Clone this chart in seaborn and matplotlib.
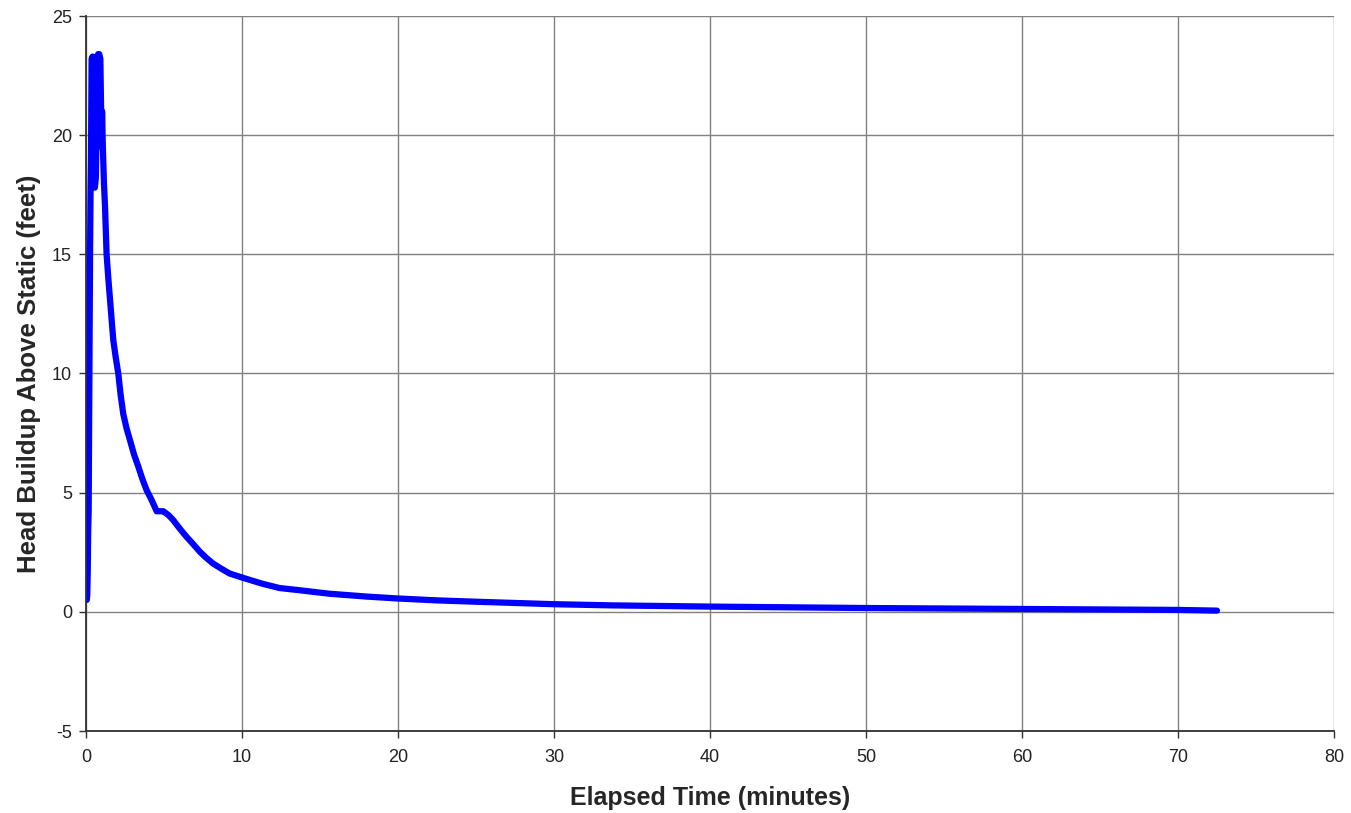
import matplotlib
matplotlib.use("Agg")
import matplotlib.pyplot as plt
import seaborn as sns
import pandas as pd

elapsed_min = [0.05, 0.08, 0.11, 0.14, 0.17, 0.20, 0.23, 0.26, 0.29, 0.32, 0.36, 0.42, 0.48,
               0.52, 0.57, 0.63, 0.68, 0.72, 0.78, 0.85, 0.92, 0.97, 1.00, 1.03, 1.08,
               1.15, 1.22, 1.32, 1.43, 1.54, 1.65, 1.75, 1.9, 2.07, 2.22, 2.39, 2.6, 2.82,
               3.08, 3.35, 3.6, 3.89, 4.2, 4.53, 4.75, 4.96, 5.3, 5.59, 6.0, 6.44, 6.9,
               7.3, 7.7, 8.14, 8.7, 9.2, 10.0, 11.3, 12.4, 13.5, 15.6, 18.0,
               20.0, 22.5, 25.2, 30.0, 33.8, 40.0, 45.0, 50.0, 55.0, 60.0, 65.0, 70.0, 72.5]
head_ft = [0.5, 0.7, 1.6, 3.4, 4.2, 7.9, 11.5, 15.0, 17.5, 19.0, 23.2, 23.3, 22.0,
           17.8, 17.8, 18.2, 20.5, 23.3, 23.4, 23.4, 23.2, 21.0, 19.5, 21.0, 19.5,
           18.0, 17.0, 15.0, 14.0, 13.1, 12.2, 11.4, 10.7, 10.0, 9.1, 8.3, 7.7, 7.2,
           6.6, 6.1, 5.6, 5.1, 4.7, 4.22, 4.22, 4.22, 4.05, 3.85, 3.5, 3.15, 2.82,
           2.52, 2.27, 2.03, 1.8, 1.61, 1.44, 1.18, 1.0, 0.92, 0.76, 0.64,
           0.56, 0.48, 0.42, 0.32, 0.27, 0.22, 0.19, 0.16, 0.14, 0.12, 0.1, 0.08, 0.05]

x_ticks = [0, 10, 20, 30, 40, 50, 60, 70, 80]
y_ticks = [-5, 0, 5, 10, 15, 20, 25]

df = pd.DataFrame({"t": elapsed_min, "h": head_ft})

sns.set_style("white")
plt.rcParams["font.family"] = ["Liberation Sans", "DejaVu Sans"]
plt.rcParams["axes.unicode_minus"] = False

fig = plt.figure(figsize=(13.51, 8.13), dpi=100)
ax = fig.add_axes([86/1351, 1-731/813, (1334-86)/1351, (731-16)/813])

sns.lineplot(data=df, x="t", y="h", ax=ax, color="#0000FF", linewidth=4.5,
             solid_capstyle="round", solid_joinstyle="round", sort=False)

ax.set_xlim(0, 80)
ax.set_ylim(-5, 25)
ax.set_xticks(x_ticks)
ax.set_yticks(y_ticks)
ax.set_xticklabels([str(v) for v in x_ticks])
ax.set_yticklabels([str(v) for v in y_ticks])
ax.grid(True, color="#808080", linewidth=1.0)
ax.set_axisbelow(True)
for side in ["top", "right"]:
    ax.spines[side].set_visible(False)
for side in ["left", "bottom"]:
    ax.spines[side].set_color("#303030")
    ax.spines[side].set_linewidth(1.3)
ax.tick_params(axis="x", direction="out", length=5, width=1, color="#303030",
               labelsize=13, pad=8, bottom=True, labelcolor="#222222")
ax.tick_params(axis="y", direction="out", length=5, width=1, color="#303030",
               labelsize=13, pad=5, left=True, labelcolor="#222222")
ax.set_xlabel("Elapsed Time (minutes)", fontsize=18, fontweight="bold", labelpad=14)
ax.set_ylabel("Head Buildup Above Static (feet)", fontsize=18.5, fontweight="bold", labelpad=8)

fig.savefig("out.png", dpi=100)
